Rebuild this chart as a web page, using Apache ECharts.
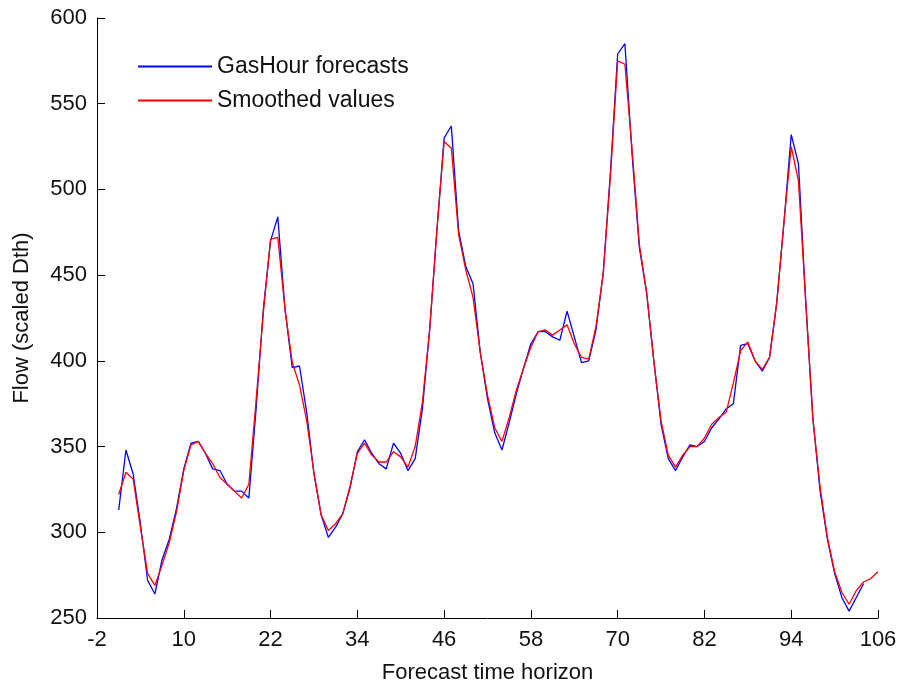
<!DOCTYPE html>
<html>
<head>
<meta charset="utf-8">
<title>GasHour forecasts vs smoothed values</title>
<script src="https://cdn.jsdelivr.net/npm/echarts@6/dist/echarts.min.js"></script>
<style>
  html, body { margin: 0; padding: 0; background: #ffffff; }
  #chart { width: 901px; height: 689px; }
</style>
</head>
<body>
<div id="chart"></div>
<script>
// Forecast hours (x) and flow values (scaled Dth)
const forecastHours = [
  1, 2, 3, 4, 5, 6, 7, 8, 9, 10, 11, 12, 13, 14, 15, 16, 17, 18, 19, 20,
  21, 22, 23, 24, 25, 26, 27, 28, 29, 30, 31, 32, 33, 34, 35, 36, 37, 38, 39, 40,
  41, 42, 43, 44, 45, 46, 47, 48, 49, 50, 51, 52, 53, 54, 55, 56, 57, 58, 59, 60,
  61, 62, 63, 64, 65, 66, 67, 68, 69, 70, 71, 72, 73, 74, 75, 76, 77, 78, 79, 80,
  81, 82, 83, 84, 85, 86, 87, 88, 89, 90, 91, 92, 93, 94, 95, 96, 97, 98, 99, 100,
  101, 102, 103, 104
];
const gasHourForecasts = [
  313, 348, 334, 305, 272, 264, 284, 296, 314, 337, 352, 353, 346, 337, 336, 328, 324, 324, 320, 372,
  430, 470, 484, 430, 396, 397, 370, 334, 310, 297, 303, 311, 326, 347, 354, 346, 340, 337, 352, 346,
  336, 343, 372, 418, 476, 530, 537, 476, 455, 445, 405, 378, 358, 348, 364, 381, 396, 410, 417, 417,
  414, 412, 429, 414, 399, 400, 418, 451, 510, 579, 585, 520, 466, 440, 400, 363, 343, 336, 344, 351,
  350, 353, 361, 366, 372, 375, 409, 410, 400, 394, 402, 434, 481, 532, 515, 435, 366, 324, 296, 276,
  262, 254, 262, 270
];

const smoothedHours = [
  1, 2, 3, 4, 5, 6, 7, 8, 9, 10, 11, 12, 13, 14, 15, 16, 17, 18, 19, 20,
  21, 22, 23, 24, 25, 26, 27, 28, 29, 30, 31, 32, 33, 34, 35, 36, 37, 38, 39, 40,
  41, 42, 43, 44, 45, 46, 47, 48, 49, 50, 51, 52, 53, 54, 55, 56, 57, 58, 59, 60,
  61, 62, 63, 64, 65, 66, 67, 68, 69, 70, 71, 72, 73, 74, 75, 76, 77, 78, 79, 80,
  81, 82, 83, 84, 85, 86, 87, 88, 89, 90, 91, 92, 93, 94, 95, 96, 97, 98, 99, 100,
  101, 102, 103, 104, 105, 106
];
const smoothedValues = [
  322, 335, 331, 303, 276, 269, 281, 294, 312, 336, 351, 353, 346, 340, 332, 328, 324, 320, 328, 377,
  428, 471, 472, 430, 399, 386, 365, 335, 310, 301, 305, 311, 327, 346, 352, 345, 341, 341, 347, 344,
  338, 350, 376, 418, 476, 528, 524, 474, 453, 437, 405, 380, 361, 353, 367, 383, 396, 408, 417, 418,
  415, 418, 421, 410, 402, 401, 420, 451, 508, 575, 573, 523, 468, 440, 400, 365, 345, 338, 345, 350,
  350, 355, 363, 367, 370, 387, 406, 411, 400, 395, 402, 434, 481, 525, 505, 435, 366, 326, 297, 277,
  265, 258, 266, 271, 273, 277
];

// Axis scale settings
const xMin = -2, xMax = 106, xStep = 12;
const yMin = 250, yMax = 600, yStep = 50;

const seriesNames = ['GasHour forecasts', 'Smoothed values'];
const xTitle = 'Forecast time horizon';
const yTitle = 'Flow (scaled Dth)';

const pairs = (xs, ys) => xs.map((x, i) => [x, ys[i]]);

const fontFamily = '"Liberation Sans", Arial, Helvetica, sans-serif';
const ink = '#111111';

const chart = echarts.init(document.getElementById('chart'), null, { renderer: 'canvas' });

chart.setOption({
  animation: false,
  backgroundColor: '#ffffff',
  textStyle: { fontFamily: fontFamily, color: ink },
  grid: { left: 97, right: 23, top: 18, bottom: 63, containLabel: false },
  legend: {
    orient: 'vertical',
    left: 138,
    top: 55,
    padding: 0,
    itemGap: 11,
    itemWidth: 74,
    itemHeight: 2,
    icon: 'rect',
    textStyle: { fontSize: 23, color: ink, fontFamily: fontFamily },
    data: seriesNames
  },
  xAxis: {
    type: 'value',
    min: xMin,
    max: xMax,
    interval: xStep,
    name: xTitle,
    nameLocation: 'middle',
    nameGap: 44,
    nameTextStyle: { fontSize: 22, color: ink, fontFamily: fontFamily },
    axisLine: { show: true, onZero: false, lineStyle: { color: '#000', width: 1 } },
    axisTick: { show: true, inside: true, length: 8, lineStyle: { color: '#000', width: 1 } },
    axisLabel: { fontSize: 22, color: ink, margin: 11, fontFamily: fontFamily },
    splitLine: { show: false }
  },
  yAxis: {
    type: 'value',
    min: yMin,
    max: yMax,
    interval: yStep,
    name: yTitle,
    nameLocation: 'middle',
    nameGap: 64,
    nameTextStyle: { fontSize: 22, color: ink, fontFamily: fontFamily },
    axisLine: { show: true, onZero: false, lineStyle: { color: '#000', width: 1 } },
    axisTick: { show: true, inside: true, length: 8, lineStyle: { color: '#000', width: 1 } },
    axisLabel: { fontSize: 22, color: ink, margin: 10, fontFamily: fontFamily },
    splitLine: { show: false }
  },
  series: [
    {
      name: seriesNames[0],
      type: 'line',
      data: pairs(forecastHours, gasHourForecasts),
      showSymbol: false,
      symbol: 'none',
      color: '#0000ff',
      lineStyle: { color: '#0000ff', width: 1.3 },
      z: 2
    },
    {
      name: seriesNames[1],
      type: 'line',
      data: pairs(smoothedHours, smoothedValues),
      showSymbol: false,
      symbol: 'none',
      color: '#ff0000',
      lineStyle: { color: '#ff0000', width: 1.3 },
      z: 3
    }
  ]
});
</script>
</body>
</html>
